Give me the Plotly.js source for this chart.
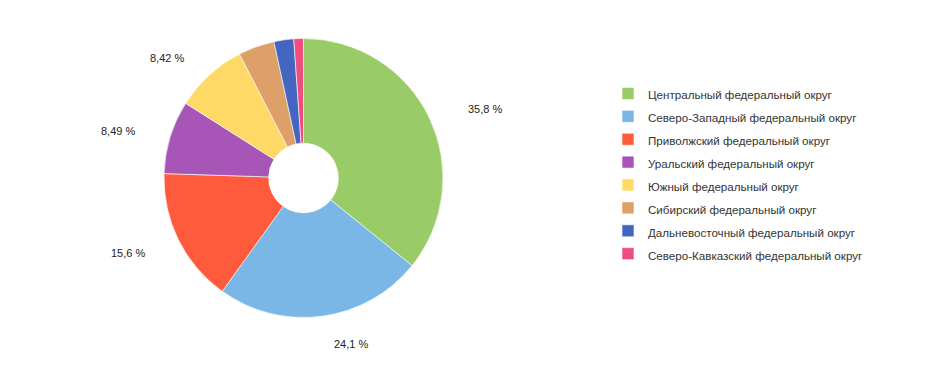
<!DOCTYPE html>
<html>
<head>
<meta charset="utf-8">
<script src="https://cdn.plot.ly/plotly-3.0.1.min.js"></script>
<style>html,body{margin:0;padding:0;background:#fff;}#chart{width:945px;height:392px;}</style>
</head>
<body>
<div id="chart"></div>
<script>
const districts = [
  "Центральный федеральный округ",
  "Северо-Западный федеральный округ",
  "Приволжский федеральный округ",
  "Уральский федеральный округ",
  "Южный федеральный округ",
  "Сибирский федеральный округ",
  "Дальневосточный федеральный округ",
  "Северо-Кавказский федеральный округ"
];
const shares = [35.8, 24.1, 15.6, 8.49, 8.42, 4.19, 2.29, 1.11];
const showLabel = [true, true, true, true, true, false, false, false];
const colors = ["#99CC66", "#7AB6E6", "#FF5A3C", "#A855B8", "#FFD966", "#DDA068", "#4466C0", "#EE4D7E"];

const W = 945, H = 392;
const dom = {x: [164/W, 443/W], y: [1 - 317.5/H, 1 - 38.5/H]};

const trace = {
  type: "pie",
  labels: districts.map(d => '<span style="font-size:11.6px">' + d + '</span>'),
  values: shares,
  sort: false,
  direction: "clockwise",
  rotation: 0,
  hole: 0.25,
  marker: {colors: colors, line: {color: "#ffffff", width: 0.6}},
  textinfo: "none",
  domain: dom,
  hoverinfo: "label+value"
};

// Percentage labels placed around the pie, derived from the data (cumulative angles)
const cx = (dom.x[0] + dom.x[1]) / 2 * W;
const cy = (1 - (dom.y[0] + dom.y[1]) / 2) * H;
const R = Math.min((dom.x[1] - dom.x[0]) * W, (dom.y[1] - dom.y[0]) * H) / 2;
const total = shares.reduce((a, b) => a + b, 0);
const annotations = [];
let cum = 0;
shares.forEach((v, i) => {
  const mid = (cum + v / 2) / total;
  cum += v;
  if (!showLabel[i]) return;
  const th = 2 * Math.PI * mid;
  const s = Math.sin(th), c = Math.cos(th);
  const px = cx + (R + 35) * s;
  const py = cy - (R + 26) * c;
  annotations.push({
    xref: "paper", yref: "paper",
    x: px / W, y: 1 - py / H,
    xanchor: s >= 0 ? "left" : "right", yanchor: "middle",
    xshift: s >= 0 ? 5 : 0, yshift: -2,
    showarrow: false,
    text: String(v).replace(".", ",") + " %",
    font: {family: "Arial, Liberation Sans, sans-serif", size: 11, color: "#222"}
  });
});

const layout = {
  width: W, height: H,
  margin: {l: 0, r: 0, t: 0, b: 0},
  paper_bgcolor: "#fff",
  showlegend: true,
  annotations: annotations,
  legend: {
    x: 608/W, xanchor: "left", y: 1 - 77/H, yanchor: "top",
    font: {family: "Arial, Liberation Sans, sans-serif", size: 15.3, color: "#333"},
    traceorder: "normal"
  }
};

Plotly.newPlot("chart", [trace], layout, {displayModeBar: false, staticPlot: true});
</script>
</body>
</html>
